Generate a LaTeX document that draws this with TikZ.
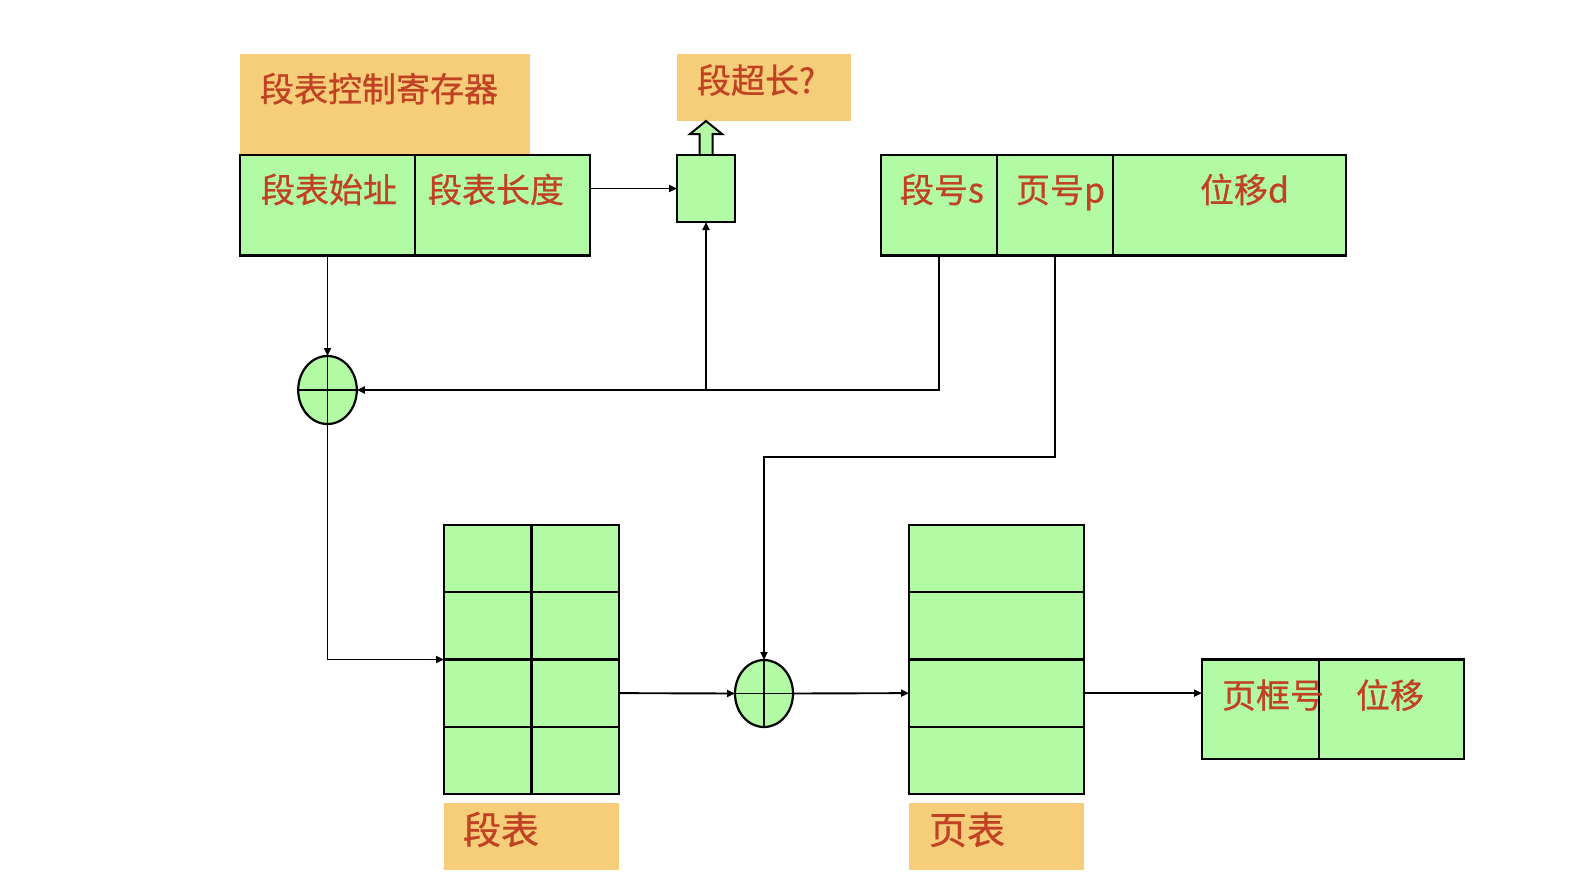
\documentclass[tikz,border=0pt]{standalone}
\usepackage{fontspec}
\newfontfamily\cjk[FakeBold=0.7]{Noto Sans CJK SC}
\usetikzlibrary{shapes.geometric,arrows.meta,calc}
\definecolor{boxgreen}{RGB}{178,250,163}
\definecolor{labelorange}{RGB}{246,205,120}
\definecolor{textred}{RGB}{193,66,35}
\begin{document}
\begin{tikzpicture}[x=1pt,y=-1pt,
  cell/.style={draw=black, fill=boxgreen, line width=2.4pt, rectangle, inner sep=0pt, outer sep=0pt},
  tag/.style={fill=labelorange, draw=none, rectangle, inner sep=0pt, outer sep=0pt},
  lbl/.style={font=\cjk\fontsize{34}{40}\selectfont, text=textred, inner sep=0pt, outer sep=0pt, anchor=base west},
  biglbl/.style={lbl, font=\cjk\fontsize{38}{44}\selectfont},
  adder/.style={ellipse, draw=black, fill=boxgreen, line width=2.2pt, inner sep=0pt, outer sep=0pt},
  conn/.style={line width=1.9pt, draw=black},
  arr/.style={conn, -{Triangle[length=8pt,width=7pt]}},
  blockarrow/.style={draw=black, fill=boxgreen, line width=2pt, line join=miter}
]
\useasboundingbox (0,0) rectangle (1596,892);

% orange tags
\node[tag, minimum width=290pt, minimum height=101pt] (regtag) at (385,104.5) {};
\node[tag, minimum width=174pt, minimum height=66.5pt] (chktag) at (764,87.25) {};
\node[tag, minimum width=175pt, minimum height=67pt] (segtag) at (531.5,836.5) {};
\node[tag, minimum width=175pt, minimum height=67pt] (pagtag) at (996.5,836.5) {};

% segment-table control register
\node[cell, minimum width=175pt, minimum height=100.5pt] (sta) at (327.5,205.25) {};
\node[cell, minimum width=175pt, minimum height=100.5pt] (stl) at (502.5,205.25) {};

% length check box
\node[cell, minimum width=58pt, minimum height=67pt] (chk) at (706,188.5) {};
\draw[blockarrow] ($(chk.north)+(-6.5,0)$) -- ++(0,-21) -- ++(-9.5,0) -- ++(16,-13) -- ++(16,13) -- ++(-9.5,0) -- ++(0,21);
\draw[line width=2.4pt] (chk.north west) -- (chk.north east);

% logical address
\node[cell, minimum width=116pt, minimum height=100.5pt] (sno) at (939,205.25) {};
\node[cell, minimum width=116pt, minimum height=100.5pt] (pno) at (1055,205.25) {};
\node[cell, minimum width=233pt, minimum height=100.5pt] (dno) at (1229.5,205.25) {};

% adders
\node[adder, minimum width=58.6pt, minimum height=68pt] (e1) at (327.5,390) {};
\draw[conn] (e1.north) -- (e1.south);
\draw[conn] (e1.west) -- (e1.east);
\node[adder, minimum width=58pt, minimum height=67pt] (e2) at (764,693.5) {};
\draw[conn] (e2.north) -- (e2.south);
\draw[conn] (e2.west) -- (e2.east);

% segment table and page table
\foreach \r/\y in {1/558.625,2/625.875,3/693.125,4/760.375} {
  \node[cell, minimum width=87.5pt, minimum height=67.25pt] (s\r-a) at (487.75,\y) {};
  \node[cell, minimum width=87.5pt, minimum height=67.25pt] (s\r-b) at (575.25,\y) {};
  \node[cell, minimum width=175pt, minimum height=67.25pt] (p\r) at (996.5,\y) {};
}

% physical address
\node[cell, minimum width=117pt, minimum height=99.5pt] (res1) at (1260.5,709.25) {};
\node[cell, minimum width=145pt, minimum height=99.5pt] (res2) at (1391.5,709.25) {};

% labels
\node[lbl] (t1) at (260,101.7) {段表控制寄存器};
\node[lbl] (t2) at (697,93) {段超长?};
\node[lbl] (t3) at (261,202.5) {段表始址};
\node[lbl] (t4) at (428,202.5) {段表长度};
\node[lbl] (t5) at (900,202.5) {段号s};
\node[lbl] (t6) at (1016,202.5) {页号p};
\node[lbl] (t7) at (1200,202.5) {位移d};
\node[biglbl] (t8) at (463,844) {段表};
\node[biglbl] (t9) at (929,844) {页表};
\node[lbl] (t10) at (1222,708) {页框号};
\node[lbl] (t11) at (1356,708) {位移};

% connectors
\draw[arr] (sta.south) -- (e1.north);
\draw[arr] (stl.east |- chk.west) -- (chk.west);
\coordinate (j1) at (chk.south |- e1.east);
\draw[arr] (sno.south) |- (e1.east);
\draw[arr] (j1) -- (chk.south);
\coordinate (bend) at (e2.north |- 0,457);
\draw[arr] (pno.south) |- (bend) -- (e2.north);
\draw[arr] (e1.south) |- (s3-a.north west);
\draw[arr] (s3-b.east) -- (e2.west);
\draw[arr] (e2.east) -- (p3.west);
\draw[arr] (p3.east) -- (p3.east -| res1.west);
\end{tikzpicture}
\end{document}
